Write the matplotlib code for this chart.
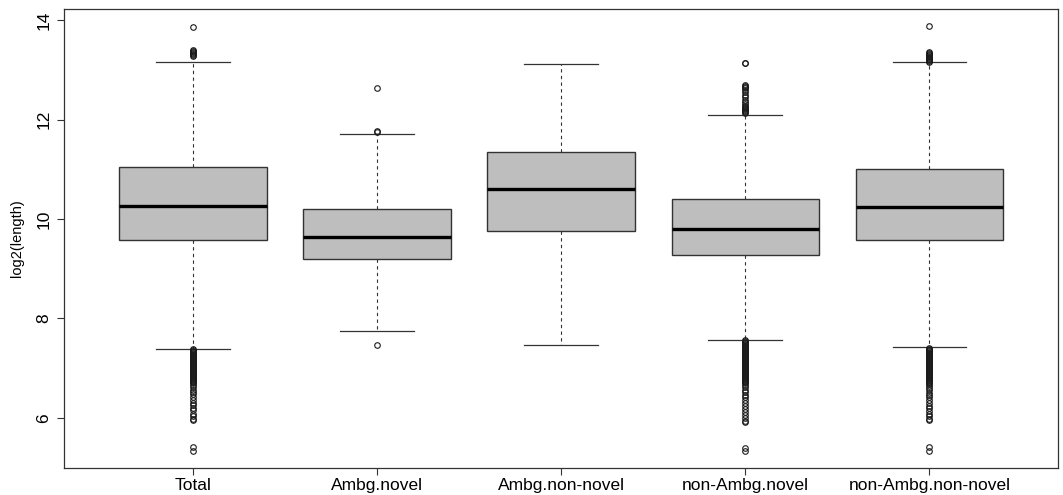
import matplotlib
matplotlib.use("Agg")
import matplotlib.pyplot as plt

plt.rcParams['font.family'] = ['Liberation Sans', 'DejaVu Sans']

categories = ["Total", "Ambg.novel", "Ambg.non-novel", "non-Ambg.novel", "non-Ambg.non-novel"]
whislo = [7.39, 7.74, 7.47, 7.57, 7.42]
q1 = [9.58, 9.19, 9.77, 9.27, 9.58]
med = [10.26, 9.64, 10.60, 9.80, 10.24]
q3 = [11.04, 10.20, 11.35, 10.40, 11.00]
whishi = [13.16, 11.71, 13.12, 12.10, 13.16]

fliers_total = [13.29, 13.31, 13.33, 13.35, 13.37, 13.39, 13.41, 13.87,
                7.38, 7.36, 7.34, 7.32, 7.30, 7.28, 7.26, 7.24, 7.22, 7.20, 7.18,
                7.16, 7.14, 7.12, 7.10, 7.08, 7.06, 7.04, 7.02, 7.00, 6.98, 6.96,
                6.94, 6.92, 6.90, 6.88, 6.86, 6.84, 6.82, 6.80, 6.78, 6.76, 6.74,
                6.72, 6.70, 6.66, 6.62, 6.57, 6.52, 6.48, 6.42, 6.36, 6.30, 6.25,
                6.20, 6.15, 6.08, 6.03, 5.98, 5.95, 5.42, 5.34]
fliers_ambg_novel = [11.76, 11.78, 12.63, 7.47]
fliers_ambg_nonnovel = []
fliers_nonambg_novel = [12.13, 12.15, 12.17, 12.19, 12.21, 12.23, 12.25, 12.28,
                        12.32, 12.36, 12.40, 12.45, 12.50, 12.55, 12.60, 12.63,
                        12.66, 12.68, 12.70, 13.14, 13.15,
                        7.56, 7.54, 7.52, 7.50, 7.48, 7.46, 7.44, 7.42, 7.40, 7.38,
                        7.36, 7.34, 7.32, 7.30, 7.28, 7.26, 7.24, 7.22, 7.20, 7.18,
                        7.16, 7.14, 7.12, 7.10, 7.08, 7.06, 7.04, 7.02, 7.00, 6.98,
                        6.96, 6.94, 6.92, 6.90, 6.88, 6.86, 6.84, 6.82, 6.80, 6.78,
                        6.76, 6.74, 6.72, 6.70, 6.66, 6.62, 6.57, 6.52, 6.47, 6.41,
                        6.35, 6.29, 6.23, 6.17, 6.11, 6.05, 5.99, 5.94, 5.91,
                        5.39, 5.33]
fliers_nonambg_nonnovel = [13.17, 13.19, 13.21, 13.23, 13.25, 13.27, 13.29, 13.31,
                           13.33, 13.35, 13.37, 13.88,
                           7.41, 7.39, 7.37, 7.35, 7.33, 7.31, 7.29, 7.27, 7.25, 7.23,
                           7.21, 7.19, 7.17, 7.15, 7.13, 7.11, 7.09, 7.07, 7.05, 7.03,
                           7.01, 6.99, 6.97, 6.95, 6.93, 6.91, 6.89, 6.87, 6.85, 6.83,
                           6.81, 6.79, 6.77, 6.75, 6.73, 6.71, 6.69, 6.65, 6.61, 6.56,
                           6.51, 6.47, 6.41, 6.35, 6.29, 6.24, 6.19, 6.14, 6.08, 6.03,
                           5.98, 5.95, 5.42, 5.34]
fliers = [fliers_total, fliers_ambg_novel, fliers_ambg_nonnovel,
          fliers_nonambg_novel, fliers_nonambg_nonnovel]

y_ticks = [6, 8, 10, 12, 14]
y_label = "log2(length)"

stats = []
for i, c in enumerate(categories):
    stats.append(dict(label=c, whislo=whislo[i], q1=q1[i], med=med[i], q3=q3[i],
                      whishi=whishi[i], fliers=fliers[i]))

fig = plt.figure(figsize=(10.63, 4.95), dpi=100)
ax = fig.add_axes([0.0602, 0.0545, 0.9353, 0.9273])

edge = "#333333"
ax.bxp(stats, positions=range(1, 6), widths=0.8, patch_artist=True,
       boxprops=dict(facecolor="#bebebe", edgecolor=edge, linewidth=1.0),
       medianprops=dict(color="black", linewidth=2.4, solid_capstyle="butt"),
       whiskerprops=dict(color=edge, linewidth=0.8, linestyle=(0, (3, 3))),
       capprops=dict(color=edge, linewidth=0.9),
       capwidths=0.4,
       flierprops=dict(marker="o", markerfacecolor="none", markeredgecolor="#1a1a1a",
                       markersize=4.0, markeredgewidth=0.8, linestyle="none"))

ax.set_xlim(0.3, 5.7)
ax.set_ylim(4.99, 14.23)
ax.set_yticks(y_ticks)
ax.set_yticklabels([str(t) for t in y_ticks], rotation=90, va="center", fontsize=12.5)
ax.set_xticks(range(1, 6))
ax.set_xticklabels(categories, fontsize=12.5)
ax.tick_params(axis="both", direction="out", length=5, width=0.8, color=edge, pad=2)
ax.tick_params(axis="y", pad=4)
for s in ax.spines.values():
    s.set_color(edge)
    s.set_linewidth(0.9)
ax.set_ylabel(y_label, fontsize=10.5, labelpad=9)

fig.savefig("out.png", dpi=100)
